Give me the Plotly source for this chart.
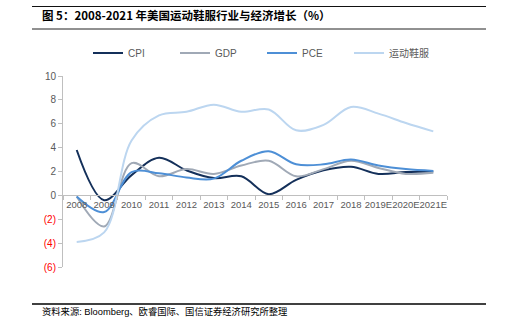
import plotly.graph_objects as go

years = ["2008", "2009", "2010", "2011", "2012", "2013", "2014", "2015",
         "2016", "2017", "2018", "2019E", "2020E", "2021E"]
cpi = [3.8, -0.4, 1.7, 3.15, 2.1, 1.45, 1.6, 0.1, 1.3, 2.1, 2.4, 1.8, 1.95, 2.0]
gdp = [-0.1, -2.6, 2.7, 1.6, 2.2, 1.8, 2.5, 2.9, 1.6, 2.2, 2.9, 2.3, 1.8, 1.9]
pce = [-0.1, -1.4, 1.95, 1.85, 1.5, 1.4, 2.9, 3.7, 2.6, 2.6, 3.0, 2.5, 2.2, 2.05]
sport = [-3.9, -3.1, 4.6, 6.7, 7.0, 7.6, 7.0, 7.2, 5.45, 5.9, 7.4, 6.85, 6.06, 5.36]

series_names = ["CPI", "GDP", "PCE", "运动鞋服"]
series_vals = [cpi, gdp, pce, sport]
series_colors = ["#14305A", "#A0A9B6", "#4D8FD6", "#BCD6F0"]

ytick_vals = [10, 8, 6, 4, 2, 0, -2, -4, -6]
ytick_text = ["10", "8", "6", "4", "2", "0",
              '<span style="color:#FF0000">(2)</span>',
              '<span style="color:#FF0000">(4)</span>',
              '<span style="color:#FF0000">(6)</span>']

fig = go.Figure()
for name, vals, col in zip(series_names, series_vals, series_colors):
    fig.add_trace(go.Scatter(x=years, y=vals, name=name, mode="lines",
                             line=dict(color=col, width=2, shape="spline", smoothing=1.0)))

font_fam = "Liberation Sans, Arial, Noto Sans CJK SC"
fig.update_layout(
    width=512, height=330,
    margin=dict(l=63, r=65, t=76, b=63, autoexpand=False),
    paper_bgcolor="white", plot_bgcolor="white",
    font=dict(family=font_fam, size=10, color="#595959"),
    showlegend=True,
    legend=dict(orientation="h", x=(262 - 63) / 384, xanchor="center", y=1 - 53/330,
                yref="container", yanchor="middle", font=dict(size=10, color="#595959"),
                entrywidth=42, entrywidthmode="pixels", itemwidth=30,
                bgcolor="rgba(0,0,0,0)"),
    xaxis=dict(type="category", anchor="free", position=6/16,
               showline=True, linecolor="#BFBFBF", linewidth=1,
               ticks="outside", tickson="boundaries", ticklen=4, tickcolor="#BFBFBF",
               showgrid=False, zeroline=False, tickangle=0,
               tickfont=dict(size=9.5, color="#595959"),
               range=[-0.5, 13.5]),
    yaxis=dict(range=[-6, 10], tickvals=ytick_vals, ticktext=ytick_text,
               showline=True, linecolor="#BFBFBF", linewidth=1,
               ticks="outside", ticklen=4, tickcolor="#BFBFBF",
               showgrid=False, zeroline=False,
               tickfont=dict(size=10, color="#595959")),
)

# header/footer rules
fig.add_annotation(text=" ", xref="paper", yref="paper", x=-31/384, y=1 + 70/191,
                   xanchor="left", yanchor="top", showarrow=False,
                   width=454, height=1, bgcolor="#111111", borderpad=0, borderwidth=0,
                   font=dict(size=1))
fig.add_shape(type="line", xref="paper", yref="paper", x0=-31/384, x1=423/384,
              y0=1 + 47/191, y1=1 + 47/191, line=dict(color="#222222", width=1))
fig.add_shape(type="line", xref="paper", yref="paper", x0=-31/384, x1=423/384,
              y0=-37/191, y1=-37/191, line=dict(color="#000000", width=1.5))

fig.add_annotation(text="<b>图 5：2008-2021 年美国运动鞋服行业与经济增长（%）</b>",
                   xref="paper", yref="paper", x=-23/384, y=1 + 61/191,
                   xanchor="left", yanchor="middle", showarrow=False,
                   font=dict(size=11.5, color="#000000", family="Noto Sans CJK SC, Liberation Sans"))
fig.add_annotation(text="资料来源: Bloomberg、欧睿国际、国信证券经济研究所整理",
                   xref="paper", yref="paper", x=-23/384, y=-44/191,
                   xanchor="left", yanchor="middle", showarrow=False,
                   font=dict(size=9.3, color="#000000", family="Liberation Sans, Noto Sans CJK SC"))

fig.write_html("out.html")
